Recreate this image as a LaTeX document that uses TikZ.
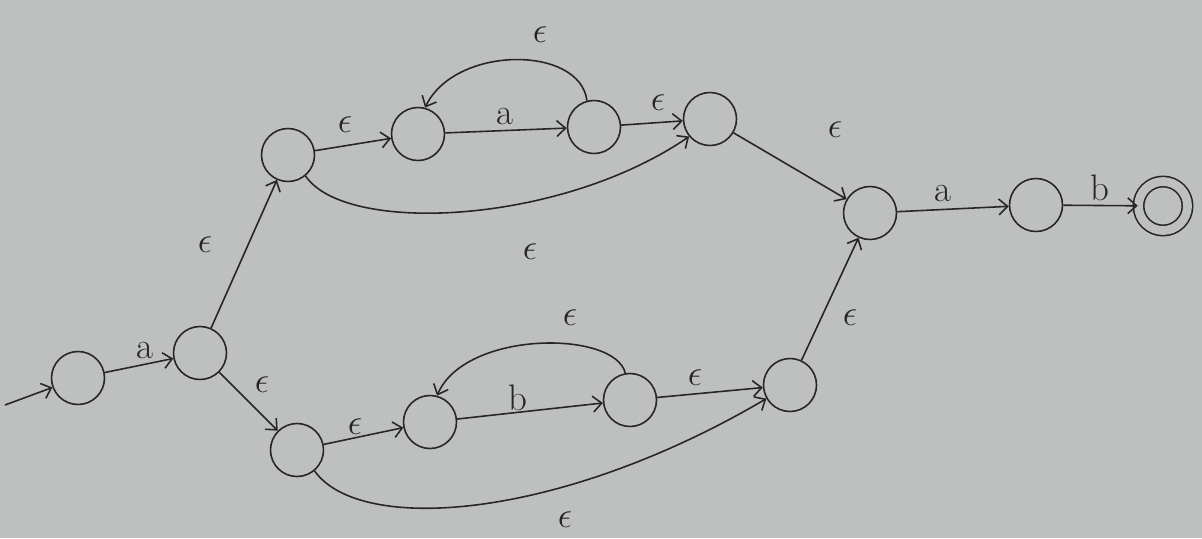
\documentclass[tikz,border=0pt]{standalone}
\usetikzlibrary{arrows.meta}
\definecolor{paper}{RGB}{190,192,192}
\definecolor{ink}{RGB}{38,38,40}
\begin{document}
\begin{tikzpicture}[x=0.02cm,y=-0.02cm,
  state/.style={circle,draw=ink,line width=0.9pt,minimum size=1.06cm,inner sep=0pt},
  accept/.style={state,double=paper,double distance=5pt,minimum size=0.98cm},
  edge/.style={draw=ink,line width=0.9pt,-{Straight Barb[length=5pt,width=9pt]}},
  lbl/.style={text=ink,font=\fontsize{21}{24}\selectfont,inner sep=0pt}]
\fill[paper] (0,0) rectangle (1202,538);
\useasboundingbox (0,0) rectangle (1202,538);
% states
\node[state] (q0) at (78,378) {};
\node[state] (q1) at (200,353) {};
\node[state] (q2) at (288,155) {};
\node[state] (q3) at (418,134) {};
\node[state] (q4) at (594,127) {};
\node[state] (q5) at (710,119) {};
\node[state] (q6) at (870,213) {};
\node[state] (q7) at (1036,205) {};
\node[accept] (q8) at (1163,206) {};
\node[state] (q9) at (297,450) {};
\node[state] (q10) at (430,422) {};
\node[state] (q11) at (630,400) {};
\node[state] (q12) at (790,385) {};
\coordinate (s) at (5,405);
% edges
\draw[edge] (s) -- (q0);
\draw[edge] (q0) -- (q1);
\draw[edge] (q1) -- (q2);
\draw[edge] (q1) -- (q9);
\draw[edge] (q2) -- (q3);
\draw[edge] (q3) -- (q4);
\draw[edge] (q4.105) .. controls (580,45) and (455,45) .. (q3.75);
\draw[edge] (q4) -- (q5);
\draw[edge] (q2.-50) .. controls (345,235) and (560,225) .. (q5.-140);
\draw[edge] (q5) -- (q6);
\draw[edge] (q6) -- (q7);
\draw[edge] (q7) -- (q8);
\draw[edge] (q9) -- (q10);
\draw[edge] (q10) -- (q11);
\draw[edge] (q11.100) .. controls (615,330) and (465,330) .. (q10.75);
\draw[edge] (q11) -- (q12);
\draw[edge] (q9.-50) .. controls (360,535) and (560,520) .. (q12.-150);
\draw[edge] (q12) -- (q6);
% labels
\node[lbl] (l1) at (145,350) {a};
\node[lbl] (l2) at (205,245) {$\epsilon$};
\node[lbl] (l3) at (262,385) {$\epsilon$};
\node[lbl] (l4) at (345,125) {$\epsilon$};
\node[lbl] (l5) at (505,116) {a};
\node[lbl] (l6) at (540,35) {$\epsilon$};
\node[lbl] (l7) at (658,103) {$\epsilon$};
\node[lbl] (l8) at (530,252) {$\epsilon$};
\node[lbl] (l9) at (835,130) {$\epsilon$};
\node[lbl] (l10) at (943,193) {a};
\node[lbl] (l11) at (1100,188) {b};
\node[lbl] (l12) at (355,427) {$\epsilon$};
\node[lbl] (l13) at (518,398) {b};
\node[lbl] (l14) at (570,318) {$\epsilon$};
\node[lbl] (l15) at (695,378) {$\epsilon$};
\node[lbl] (l16) at (565,520) {$\epsilon$};
\node[lbl] (l17) at (850,318) {$\epsilon$};
\end{tikzpicture}
\end{document}
